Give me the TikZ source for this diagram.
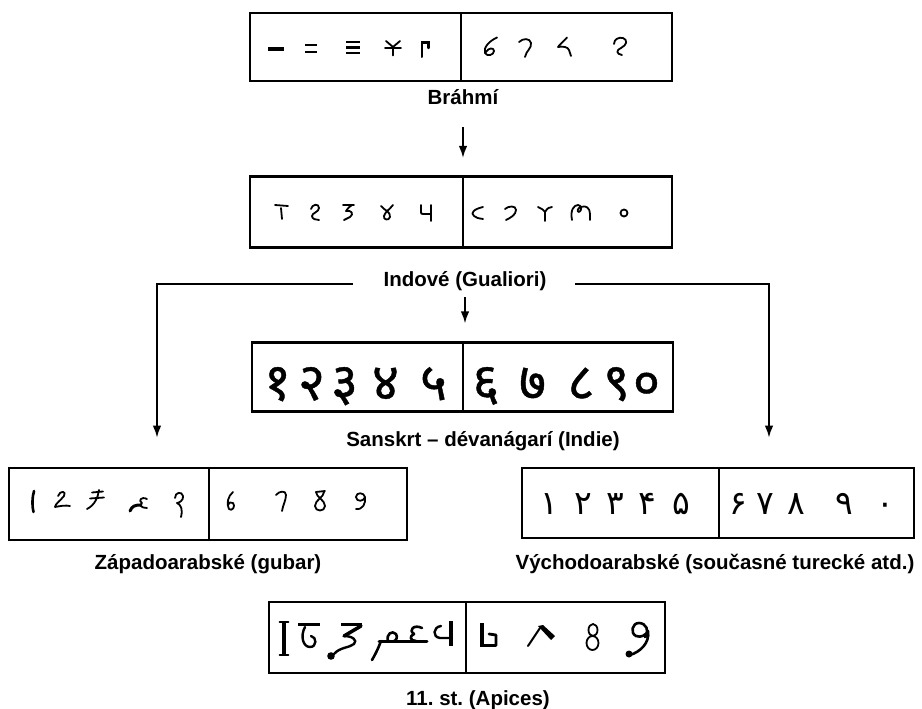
\documentclass[tikz,border=0pt]{standalone}
\usepackage{fontspec}
\setmainfont{Liberation Sans}
\newfontfamily\devafont[Script=Devanagari,FakeBold=0.8]{Noto Sans}
\newfontfamily\arabfont{DejaVu Sans}
\usetikzlibrary{arrows.meta}
\frenchspacing
\begin{document}
\begin{tikzpicture}[x=1pt,y=-1pt,
  box/.style={draw, line width=2.6pt, inner sep=0pt},
  divl/.style={line width=2.2pt},
  lbl/.style={anchor=base, inner sep=0pt, font=\fontsize{20.5}{24}\selectfont\bfseries},
  conn/.style={line width=1.8pt},
  tip/.style={-{Latex[length=12pt,width=8.5pt]}},
  gl/.style={line width=1.8pt, line cap=round, line join=round},
  devl/.style={anchor=base, inner sep=0pt, font=\devafont\fontsize{52}{56}\selectfont},
  arbl/.style={anchor=base, inner sep=0pt, font=\arabfont\fontsize{33}{40}\selectfont}]
\useasboundingbox (0,0) rectangle (922,709);

% ---------- boxes ----------
\node[box, minimum width=422pt, minimum height=68pt] (b1) at (461,47) {};
\node[box, minimum width=422pt, minimum height=71.5pt] (b2) at (461,212) {};
\node[box, minimum width=421pt, minimum height=68.5pt] (b3) at (462.5,377) {};
\node[box, minimum width=398pt, minimum height=72pt] (b4) at (208,504) {};
\node[box, minimum width=392pt, minimum height=70pt] (b5) at (718,503) {};
\node[box, minimum width=396pt, minimum height=71pt] (b6) at (467,637.5) {};
\draw[divl] (461,13) -- (461,81);
\draw[divl] (463,176.5) -- (463,248);
\draw[divl] (463,343) -- (463,411.5);
\draw[divl] (209,468) -- (209,540);
\draw[divl] (719,468) -- (719,538);
\draw[divl] (466,602) -- (466,673);

% ---------- labels ----------
\node[lbl] (brahmi) at (463,104) {Bráhmí};
\node[lbl] (indove) at (465,286) {Indové (Gualiori)};
\node[lbl] (sanskrt) at (483,446) {Sanskrt – dévanágarí (Indie)};
\node[lbl] (zapad) at (208,569) {Západoarabské (gubar)};
\node[lbl] (vychod) at (715,569) {Východoarabské (současné turecké atd.)};
\node[lbl] (apices) at (478,705) {11. st. (Apices)};

% ---------- connectors ----------
\draw[conn,tip,shorten <=23pt,shorten >=17pt] (brahmi.south) -- (brahmi.south |- b2.north);
\draw[conn,tip,shorten <=7pt,shorten >=18pt] (indove.south) -- (indove.south |- b3.north);
\coordinate (L1) at (353,284);
\coordinate (L2) at (157,284);
\coordinate (R1) at (575,284);
\coordinate (R2) at (769,284);
\draw[conn,tip,shorten >=29pt] (L1) -- (L2) -- (L2 |- b4.north);
\draw[conn,tip,shorten >=29pt] (R1) -- (R2) -- (R2 |- b5.north);

% ---------- Brahmi numerals ----------
\draw[gl,line width=3.2pt,line cap=butt] (268,49) -- (284,49);
\draw[gl,line width=2.8pt,line cap=butt] (305,45) -- (317,45) (305,52) -- (317,52);
\draw[gl,line width=2.2pt,line cap=butt] (346,42) -- (360,42) (346,47.5) -- (360,47.5) (346,53) -- (360,53);
\draw[gl] (386,41) -- (393,47) -- (400,41) (393,47) -- (393,55.5) (385,48) -- (401,48);
\draw[gl,line width=2pt] (421.5,42) -- (421.5,57);
\fill (421,41) rectangle (429.5,44.5);
\draw[gl,line width=2.4pt] (428.5,43) -- (428.5,48);
\draw[gl] (497,37.5) .. controls (489,41) and (483,48) .. (485,53) .. controls (487,57) and (494,55) .. (494,51) .. controls (494,47) and (488,48) .. (486,52);
\draw[gl] (519,42) .. controls (523,38) and (530,38) .. (531,43) .. controls (532,48) and (526,51) .. (525,57);
\draw[gl] (567,37.5) .. controls (563,42) and (559,45) .. (558,47) .. controls (563,46) and (568,47) .. (569,50) .. controls (570,53) .. (571,56);
\draw[gl] (614,44) .. controls (614,39) and (619,37) .. (623,38) .. controls (628,40) and (627,45) .. (621,48) .. controls (616,50) and (616,54) .. (622,55);

% ---------- Gwalior numerals ----------
\draw[gl] (275,205) -- (288,206) (281,208) -- (282,219);
\draw[gl] (311,209) .. controls (312,204) and (319,203) .. (319,208) .. controls (319,212) and (312,213) .. (312,216) .. controls (312,219) and (316,220) .. (319,220);
\draw[gl] (343,205) -- (354,205);
\draw[gl] (352,205) .. controls (349,207) .. (346,211) .. controls (352,210) and (354,214) .. (350,217) .. controls (347,219) .. (344,220);
\draw[gl] (381,206) .. controls (384,210) and (391,212) .. (390,217) .. controls (389,221) and (383,220) .. (384,216) .. controls (385,212) and (390,209) .. (393,205);
\draw[gl] (421,205) -- (421,212) .. controls (421,214) .. (424,214) -- (431,214) (431,205) -- (431,221);
\draw[gl] (483,207) .. controls (474,209) and (470,213) .. (474,216) .. controls (477,218) .. (483,219);
\draw[gl] (505,209) .. controls (508,206) and (516,205) .. (516,210) .. controls (516,215) and (510,218) .. (506,220);
\draw[gl] (545,221) -- (545,212) (538,207) .. controls (542,209) and (544,210) .. (545,212) .. controls (547,208) and (550,207) .. (552,207);
\draw[gl] (572,220) .. controls (570,210) and (574,205) .. (578,205) .. controls (582,205) and (582,211) .. (579,212) .. controls (577,212) and (577,208) .. (581,207) .. controls (586,205) and (590,208) .. (590,214) -- (590,220);
\draw[gl] (624,213) circle (3.5pt);

% ---------- Devanagari numerals ----------
\foreach \x/\d in {277.5/१,311.5/२,344.5/३,385.5/४,433.5/५,486/६,532.5/७,581/८,616.5/९,646.5/०}
  \node[devl] (dv\x) at (\x,400) {\d};

% ---------- West Arabic (gubar) ----------
\draw[gl,line width=2.6pt] (34,491) .. controls (32,498) and (32,506) .. (33.5,512);
\draw[gl] (58,496) .. controls (60,490) and (67,491) .. (64,496) .. controls (61,500) and (55,504) .. (55,507) .. controls (60,506) and (66,505) .. (70,506);
\draw[gl] (92,492.5) -- (103,491.5) (90,498.5) -- (104,497.5) (99,490) .. controls (98,497) and (95,505) .. (87,509);
\draw[gl,line width=3pt] (130,511) .. controls (132,506) and (135,505) .. (141,505);
\draw[gl] (147,499) .. controls (141,496) and (138,501) .. (142,503) .. controls (139,505) and (141,508) .. (147,508);
\draw[gl] (175,498) .. controls (175,492) and (182,491) .. (183,496) .. controls (184,500) and (179,503) .. (177,503) .. controls (181,505) and (183,509) .. (181,517);
\draw[gl] (233,492) .. controls (228,496) and (226,504) .. (229,509) .. controls (232,512) and (236,506) .. (233,503) .. controls (231,501) and (228,503) .. (228,505);
\draw[gl] (276,495) .. controls (279,491) and (286,490) .. (286,495) .. controls (286,500) and (283,505) .. (282,511);
\draw[gl] (325,491) -- (316,492) .. controls (316,497) and (325,500) .. (325,506) .. controls (325,512) and (315,512) .. (315,506) .. controls (315,500) and (324,497) .. (324,492);
\draw[gl] (365,497) .. controls (364,492) and (356,492) .. (356,497) .. controls (356,502) and (364,502) .. (365,497) .. controls (366,503) and (363,510) .. (356,509);

% ---------- East Arabic ----------
\foreach \x/\d in {549/۱,583.5/۲,615/۳,647/۴,681/۵,738.5/۶,765/۷,796.5/۸,844.5/۹,885.5/۰}
  \node[arbl] (ea\x) at (\x,514) {\d};

% ---------- Apices ----------
\draw[gl,line width=3.5pt,line cap=butt] (284,622) -- (284,655);
\draw[gl,line width=1.6pt] (279.5,622) -- (288.5,622) (279.5,655) -- (288.5,655);
\draw[gl,line width=3.8pt,line cap=butt] (298,624.5) -- (320,624.5);
\draw[gl,line width=2.4pt] (305,627) .. controls (300,636) and (303,647) .. (310,647) .. controls (317,647) and (317,637) .. (311,636);
\draw[gl,line width=3.8pt,line cap=butt] (341,624.5) -- (362,624.5);
\draw[gl,line width=3.5pt] (361,626) -- (344,636);
\draw[gl,line width=2.4pt] (344,636) .. controls (352,636) and (358,640) .. (354,644) .. controls (349,648) and (340,647) .. (334,654);
\fill (331,656) circle (3.8pt);
\draw[gl,line width=3pt] (379,641) -- (427,641);
\draw[gl,line width=2.6pt] (381,641) .. controls (378,649) and (375,655) .. (372,660);
\draw[gl,line width=2.6pt] (388,641) .. controls (386,634) and (392,630) .. (396,634) .. controls (398,637) and (396,641) .. (394,641);
\draw[gl,line width=2.6pt] (422,628) .. controls (414,624) and (408,630) .. (414,634) .. controls (409,636) and (410,641) .. (416,641);
\draw[gl,line width=2.4pt] (441,626) .. controls (433,627) and (432,637) .. (440,638) -- (451,638);
\draw[gl,line width=4pt,line cap=butt] (451,621) -- (451,646);
\draw[gl,line width=3.5pt,line cap=butt] (482,623) -- (482,647);
\draw[gl,line width=2.8pt] (482,645.5) -- (496,645.5) -- (496,635) -- (489,634);
\draw[gl,line width=2pt] (528,646) -- (540,628);
\fill (538,626) -- (543,625) -- (555,636) -- (551,640) -- cycle;
\draw[gl] (593,630) ellipse (4.5pt and 6pt) (592.5,643) ellipse (6pt and 7pt);
\draw[gl,line width=2.6pt] (645,637) .. controls (650,631) and (646,623) .. (639,623) .. controls (632,623) and (630,633) .. (636,636) .. controls (641,638) and (646,635) .. (648,631) .. controls (650,643) and (640,652) .. (630,655);
\fill (629,654) circle (3.5pt);
\end{tikzpicture}
\end{document}
